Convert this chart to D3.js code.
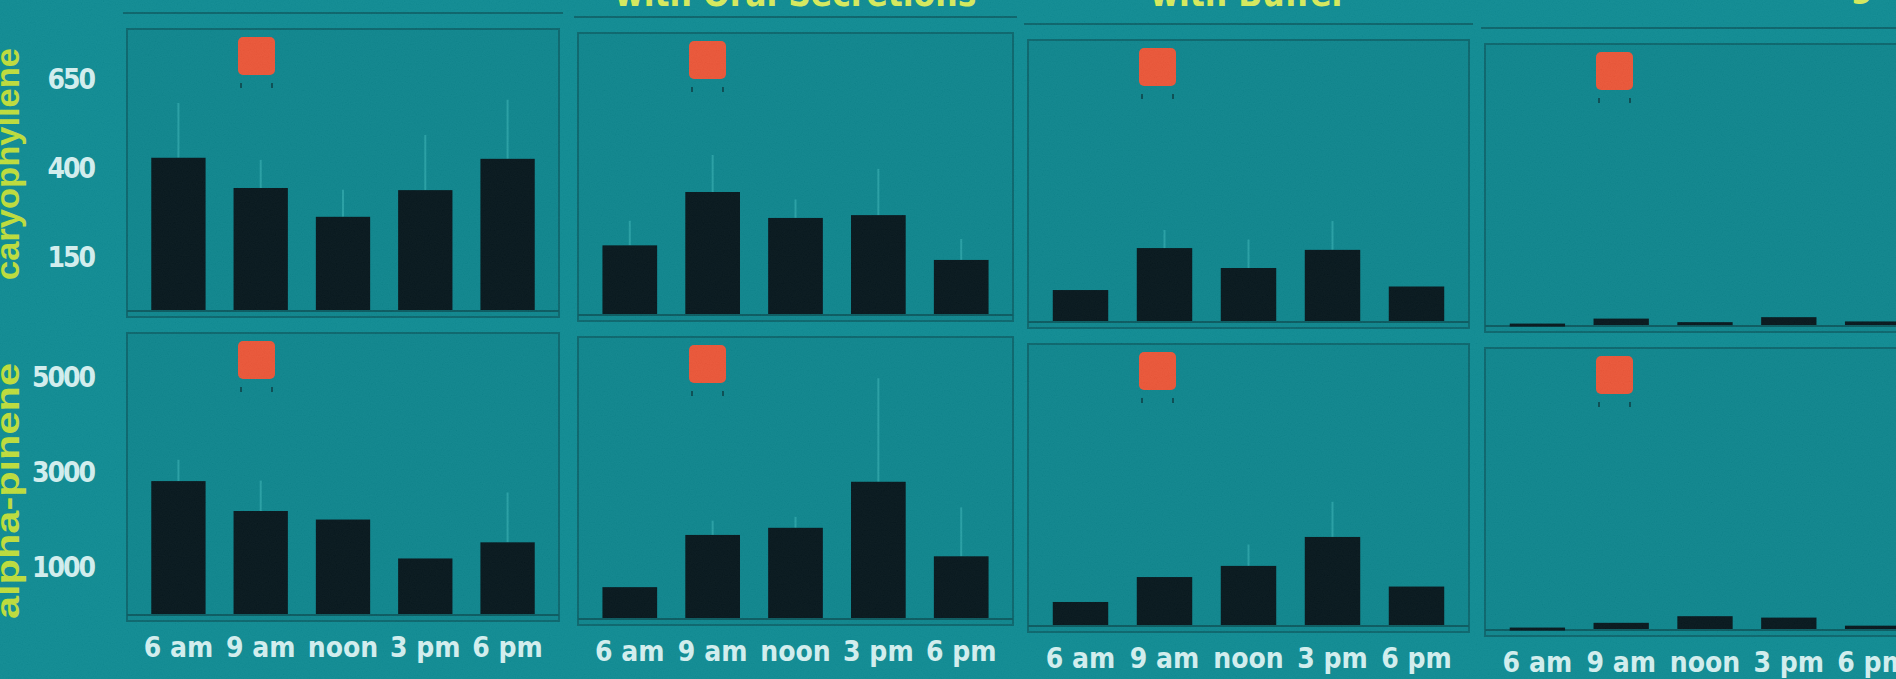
<!DOCTYPE html>
<html>
<head>
<meta charset="utf-8">
<script src="https://cdn.jsdelivr.net/npm/d3@7/dist/d3.min.js"></script>
<style>
  body { margin: 0; background: #0c8c94; overflow: hidden; }
  svg { display: block; }
  .narrow { font-family: "Liberation Sans Narrow", "DejaVu Sans Condensed", "Arial Narrow", sans-serif; font-weight: bold; }
  .tick-label { fill: #d6f3f3; font-size: 28px; }
  .y-num { letter-spacing: -2px; }
  .y-title { font-family: "Liberation Sans", Arial, sans-serif; font-weight: bold; fill: #c0e03a; font-size: 34px; }
  .col-title { fill: #d9ee5c; font-size: 35px; }
</style>
</head>
<body>
<div class="chart"></div>
<script>
var times = ['6 am', '9 am', 'noon', '3 pm', '6 pm'];
var colTitles = ['', 'with Oral Secretions', 'with Buffer', 'without Wounding'];
var compounds = ['caryophyllene', 'alpha-pinene'];
var caryTicks = [150, 400, 650];
var pineneTicks = [1000, 3000, 5000];

// mean emission per panel (5 times each), one array per treatment column
var caryMeans = [
  [428, 343, 262, 337, 425],
  [193, 343, 270, 278, 152],
  [87, 205, 149, 200, 97],
  [4, 18, 8, 22, 10]
];
var caryErr = [
  [154, 79, 76, 155, 166],
  [69, 104, 52, 130, 59],
  [0, 51, 80, 81, 0],
  [0, 0, 0, 0, 0]
];
var pineneMeans = [
  [2800, 2170, 1990, 1170, 1510],
  [650, 1750, 1900, 2870, 1300],
  [485, 1010, 1245, 1855, 810],
  [30, 130, 270, 240, 70]
];
var pineneErr = [
  [450, 640, 0, 0, 1050],
  [0, 300, 230, 2180, 1030],
  [0, 0, 450, 740, 0],
  [0, 0, 0, 0, 0]
];

var width = 1896, height = 679;
var rowBase = [310, 614];
var titleY = [164, 491];
var titleLen = [232, 256];
var plotH = 281;
var colLeft = [127, 578, 1028, 1485];
var colW = [432, 435, 441, 440];
var colDy = [0, 4, 11, 15];

var rows = [
  { name: compounds[0], means: caryMeans, err: caryErr, ticks: caryTicks, max: 790 },
  { name: compounds[1], means: pineneMeans, err: pineneErr, ticks: pineneTicks, max: 5920 }
];

var svg = d3.select('.chart').append('svg')
  .attr('width', width)
  .attr('height', height);

svg.append('rect')
  .attr('width', width).attr('height', height)
  .attr('fill', '#0c8c94');

// grain for the photographed-slide look
var grain = svg.append('defs').append('filter')
  .attr('id', 'grain').attr('x', 0).attr('y', 0).attr('width', '100%').attr('height', '100%');
grain.append('feTurbulence')
  .attr('type', 'fractalNoise').attr('baseFrequency', 0.85).attr('numOctaves', 2).attr('seed', 4);
grain.append('feColorMatrix')
  .attr('type', 'matrix')
  .attr('values', '0.33 0.33 0.33 0 -0.15  0.33 0.33 0.33 0 -0.15  0.33 0.33 0.33 0 -0.15  0 0 0 0 1');

// column titles, cut off by the top edge of the photo
colTitles.forEach(function(t, c){
  if (!t) return;
  svg.append('text')
    .attr('class', 'narrow col-title')
    .attr('x', colLeft[c] + colW[c] / 2 + (c == 3 ? 5 : 0))
    .attr('y', c == 3 ? -3 : 6)
    .attr('text-anchor', 'middle')
    .text(t);
});

colLeft.forEach(function(l, c){
  svg.append('line')
    .attr('x1', l - 4).attr('x2', l + colW[c] + 4)
    .attr('y1', 13 + colDy[c]).attr('y2', 13 + colDy[c])
    .attr('stroke', '#08646b').attr('stroke-width', 2);
});

rows.forEach(function(row, r){
  for (var c = 0; c < 4; c++) {
    var base = rowBase[r] + colDy[c];
    var g = svg.append('g');

    var y = d3.scaleLinear()
      .domain([0, row.max])
      .range([base, base - plotH]);

    var x = d3.scaleBand()
      .domain(times)
      .range([colLeft[c], colLeft[c] + colW[c]])
      .paddingInner(0.34)
      .paddingOuter(0.295);

    g.append('rect')
      .attr('x', colLeft[c]).attr('y', base - plotH)
      .attr('width', colW[c]).attr('height', plotH + 7)
      .attr('fill', '#0b868e')
      .attr('stroke', '#08666d').attr('stroke-width', 2);

    g.append('line')
      .attr('x1', colLeft[c]).attr('x2', colLeft[c] + colW[c])
      .attr('y1', base + 1).attr('y2', base + 1)
      .attr('stroke', '#075a60').attr('stroke-width', 2);

    var pts = times.map(function(t, i){ return { t: t, v: row.means[c][i], e: row.err[c][i] }; });

    g.selectAll('.err')
      .data(pts.filter(function(d){ return d.e > 0; }))
      .enter().append('line')
      .attr('class', 'err')
      .attr('x1', function(d){ return x(d.t) + x.bandwidth() / 2; })
      .attr('x2', function(d){ return x(d.t) + x.bandwidth() / 2; })
      .attr('y1', function(d){ return y(d.v); })
      .attr('y2', function(d){ return y(d.v + d.e); })
      .attr('stroke', '#3cb8b9')
      .attr('stroke-opacity', 0.55)
      .attr('stroke-width', 2);

    g.selectAll('.bar')
      .data(pts)
      .enter().append('rect')
      .attr('class', 'bar')
      .attr('x', function(d){ return x(d.t); })
      .attr('width', x.bandwidth())
      .attr('y', function(d){ return y(d.v); })
      .attr('height', function(d){ return Math.max(3, base - y(d.v)); })
      .attr('fill', '#03141a');

    // red legend key
    var kx = colLeft[c] + 111, ky = base - plotH + 8;
    g.append('rect')
      .attr('x', kx).attr('y', ky)
      .attr('width', 37).attr('height', 38)
      .attr('rx', 5)
      .attr('fill', '#ee5536');
    [kx + 3, kx + 34].forEach(function(px){
      g.append('rect')
        .attr('x', px - 1).attr('y', ky + 46)
        .attr('width', 2).attr('height', 5)
        .attr('fill', '#064c52');
    });

    if (r == 1) {
      g.selectAll('.xlab')
        .data(times)
        .enter().append('text')
        .attr('class', 'narrow tick-label')
        .attr('x', function(d){ return x(d) + x.bandwidth() / 2; })
        .attr('y', base + 43)
        .attr('text-anchor', 'middle')
        .text(function(d){ return d; });
    }

    if (c == 0) {
      g.selectAll('.ylab')
        .data(row.ticks)
        .enter().append('text')
        .attr('class', 'narrow tick-label y-num')
        .attr('x', 94)
        .attr('y', function(d){ return y(d) + 10; })
        .attr('text-anchor', 'end')
        .text(function(d){ return d; });

      svg.append('text')
        .attr('class', 'y-title')
        .attr('transform', 'translate(19,' + titleY[r] + ') rotate(-90)')
        .attr('text-anchor', 'middle')
        .attr('textLength', titleLen[r])
        .attr('lengthAdjust', 'spacingAndGlyphs')
        .text(row.name);
    }
  }
});

svg.append('rect')
  .attr('width', width).attr('height', height)
  .attr('filter', 'url(#grain)')
  .attr('opacity', 0.06);
</script>
</body>
</html>
